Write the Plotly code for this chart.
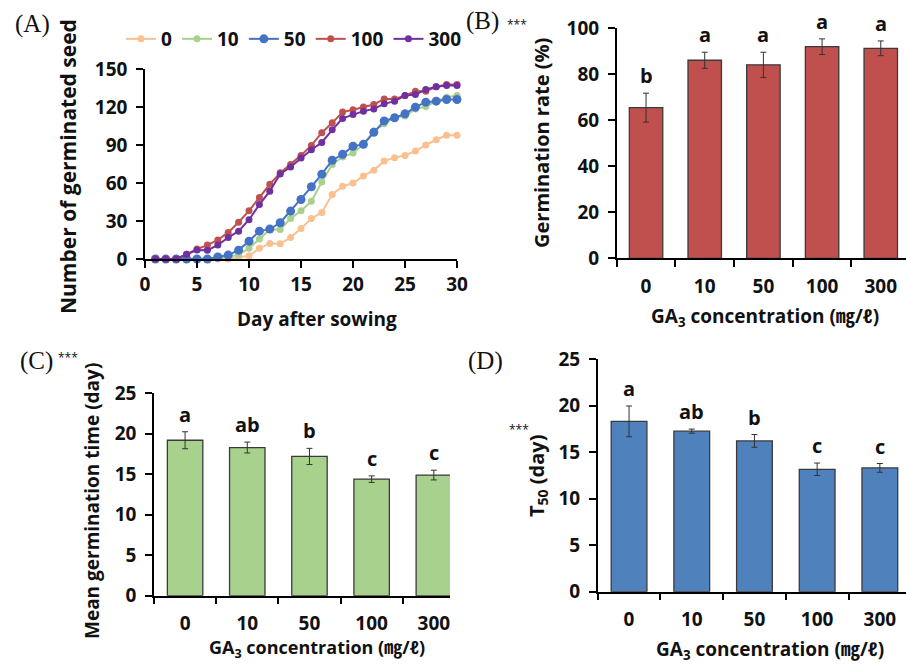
import plotly.graph_objects as go

# ---------------- data ----------------
days = list(range(1, 31))
ga_levels = ["0", "10", "50", "100", "300"]

seed_0 = [0, 0, 0, 0, 0, 0, 0, 0, 1.3, 2.6, 8.4, 12.3, 12, 17, 24, 32, 36.7, 50.9, 57.4, 60,
          65.6, 70, 77.4, 80, 81.8, 85.2, 90, 94.2, 97.6, 97.6]
seed_10 = [0, 0, 0, 0, 0, 0, 0.5, 1.5, 3.5, 8.4, 15.7, 23.3, 23.3, 32, 38, 45.6, 60.8, 74.7, 80.5, 83.7,
           90.5, 101, 106.7, 111.5, 112.8, 118.5, 120.4, 124.6, 127.7, 129]
seed_50 = [0, 0, 0, 0, 0, 0, 1.6, 3.1, 7, 14, 22, 23.6, 28.6, 37.8, 47, 57, 67, 78, 82.6, 89,
           90.5, 100, 109, 111.5, 114.6, 119.9, 123.8, 124.6, 125.9, 125.9]
seed_100 = [0, 0, 0, 3.7, 7.9, 11, 15, 21, 29, 38, 48.5, 59, 68, 74.7, 81.8, 89.7, 99.7, 107.5, 116, 117.8,
            120, 122, 126.4, 126.4, 129, 132.4, 132.4, 136, 137.7, 137.7]
seed_300 = [0, 0, 0, 3.7, 7.1, 7, 11, 17, 22, 31, 43, 53.5, 67.2, 72.6, 79.7, 86.3, 92, 102, 111, 114,
            116.7, 118.5, 122.5, 124.6, 129, 129.8, 133.8, 136, 137, 137]

germ_rate = [65.5, 86.1, 84.1, 92.0, 91.3]
germ_rate_err = [6.3, 3.5, 5.5, 3.4, 3.2]
germ_rate_letters = ["b", "a", "a", "a", "a"]

mgt = [19.2, 18.3, 17.2, 14.4, 14.9]
mgt_err = [1.05, 0.67, 1.0, 0.4, 0.6]
mgt_letters = ["a", "ab", "b", "c", "c"]

t50 = [18.3, 17.25, 16.2, 13.15, 13.3]
t50_err = [1.65, 0.22, 0.68, 0.67, 0.47]
t50_letters = ["a", "ab", "b", "c", "c"]

# ---------------- styles ----------------
FONT = "Open Sans, Noto Sans CJK KR, sans-serif"
SERIF = "Liberation Serif, serif"
TXT = "#111111"
line_colors = ["#FAC090", "#A9D18E", "#4472C4", "#C0504D", "#7030A0"]
marker_sizes = [7, 7, 9, 7, 7]
W, H = 906, 664

fig = go.Figure()

series = [seed_0, seed_10, seed_50, seed_100, seed_300]
for name, ys, col, ms in zip(ga_levels, series, line_colors, marker_sizes):
    fig.add_trace(go.Scatter(
        x=days, y=ys, name=name, mode="lines+markers",
        line=dict(color=col, width=2), marker=dict(color=col, size=ms),
        xaxis="x", yaxis="y", cliponaxis=False))

def add_bars(vals, errs, color, xa, ya):
    fig.add_trace(go.Bar(
        x=ga_levels, y=vals, width=0.57, showlegend=False,
        marker=dict(color=color, line=dict(color="#3a3a3a", width=1.3)),
        error_y=dict(type="data", array=errs, color="#333333", thickness=1, width=3),
        xaxis=xa, yaxis=ya))

add_bars(germ_rate, germ_rate_err, "#C0504D", "x2", "y2")
add_bars(mgt, mgt_err, "#A9D18E", "x3", "y3")
add_bars(t50, t50_err, "#4F81BD", "x4", "y4")

tickfont = dict(family=FONT, size=19, color=TXT, weight="bold")
axcommon = dict(showline=True, linecolor="black", linewidth=1.5, ticks="outside",
                tickcolor="black", ticklen=7, tickwidth=1.5, showgrid=False,
                zeroline=False, tickfont=tickfont, fixedrange=True, automargin=False)
yax = dict(axcommon, ticklabelstandoff=5)
xcat = dict(axcommon, type="category", tickson="boundaries", ticklabelstandoff=10)

def dom_x(a, b):
    return [a / W, b / W]

def dom_y(top, bottom):
    return [1 - bottom / H, 1 - top / H]

layout = dict(
    width=W, height=H, margin=dict(l=0, r=0, t=0, b=0, autoexpand=False),
    paper_bgcolor="white", plot_bgcolor="white",
    font=dict(family=FONT, size=18, color=TXT),
    showlegend=True,
    legend=dict(orientation="h", x=121 / W, y=1 - 20 / H, xanchor="left", yanchor="top",
                font=dict(family=FONT, size=19, color=TXT, weight="bold"),
                itemwidth=30, tracegroupgap=0, bgcolor="rgba(0,0,0,0)"),
    xaxis=dict(axcommon, domain=dom_x(145, 457), range=[0, 30], dtick=5, tick0=0, anchor="y"),
    yaxis=dict(yax, domain=dom_y(69, 259), range=[0, 150], dtick=30, anchor="x"),
    xaxis2=dict(xcat, domain=dom_x(616.7, 906), range=[-0.5, 4.43], anchor="y2"),
    yaxis2=dict(yax, domain=dom_y(28.3, 258.3), range=[0, 100], dtick=20, anchor="x2"),
    xaxis3=dict(xcat, domain=dom_x(154, 450), range=[-0.5, 4.26], anchor="y3"),
    yaxis3=dict(yax, domain=dom_y(393.3, 595.7), range=[0, 25], dtick=5, anchor="x3"),
    xaxis4=dict(xcat, domain=dom_x(597.7, 906), range=[-0.5, 4.417], anchor="y4"),
    yaxis4=dict(yax, domain=dom_y(359, 591.7), range=[0, 25], dtick=5, anchor="x4"),
)
fig.update_layout(**layout)

ann = []

def text_ann(x, y, text, size=18, angle=0, family=FONT, xanchor="center", yanchor="middle"):
    ann.append(dict(x=x / W, y=1 - y / H, xref="paper", yref="paper", text=text,
                    showarrow=False, textangle=angle, xanchor=xanchor, yanchor=yanchor,
                    font=dict(family=family, size=size, color=TXT)))

# panel labels
text_ann(32, 24, "(A)", size=25, family=SERIF)
text_ann(482, 21, "(B)", size=25, family=SERIF)
text_ann(36, 361, "(C)", size=25, family=SERIF)
text_ann(486, 361, "(D)", size=25, family=SERIF)
text_ann(517, 24, "***", size=12)
text_ann(68, 357, "***", size=12)
text_ann(519, 429, "***", size=12)

# axis titles
text_ann(68, 167, "<b>Number of germinated seed</b>", size=21, angle=-90)
text_ann(317, 319, "<b>Day after sowing</b>", size=19)
text_ann(541, 143, "<b>Germination rate (%)</b>", size=20, angle=-90)
text_ann(765, 317, "<b>GA<sub>3</sub> concentration (㎎/ℓ)</b>", size=19)
text_ann(92, 501, "<b>Mean germination time (day)</b>", size=19, angle=-90)
text_ann(317, 648, "<b>GA<sub>3</sub> concentration (㎎/ℓ)</b>", size=18)
text_ann(537, 476, "<b>T<sub>50</sub> (day)</b>", size=20, angle=-90)
text_ann(770, 650, "<b>GA<sub>3</sub> concentration (㎎/ℓ)</b>", size=19)

# significance letters (x given as category index)
for xa, ya, vals, errs, letters in [("x2", "y2", germ_rate, germ_rate_err, germ_rate_letters),
                                    ("x3", "y3", mgt, mgt_err, mgt_letters),
                                    ("x4", "y4", t50, t50_err, t50_letters)]:
    for i, (v, e, l) in enumerate(zip(vals, errs, letters)):
        ann.append(dict(x=i, y=v + e, xref=xa, yref=ya, text="<b>" + l + "</b>",
                        showarrow=False, yanchor="bottom", yshift=2,
                        font=dict(family=FONT, size=20, color=TXT)))

fig.update_layout(annotations=ann)
fig.write_html("out.html", config={"displayModeBar": False},
               post_script="document.body.style.margin='0';document.body.style.overflow='hidden';")
